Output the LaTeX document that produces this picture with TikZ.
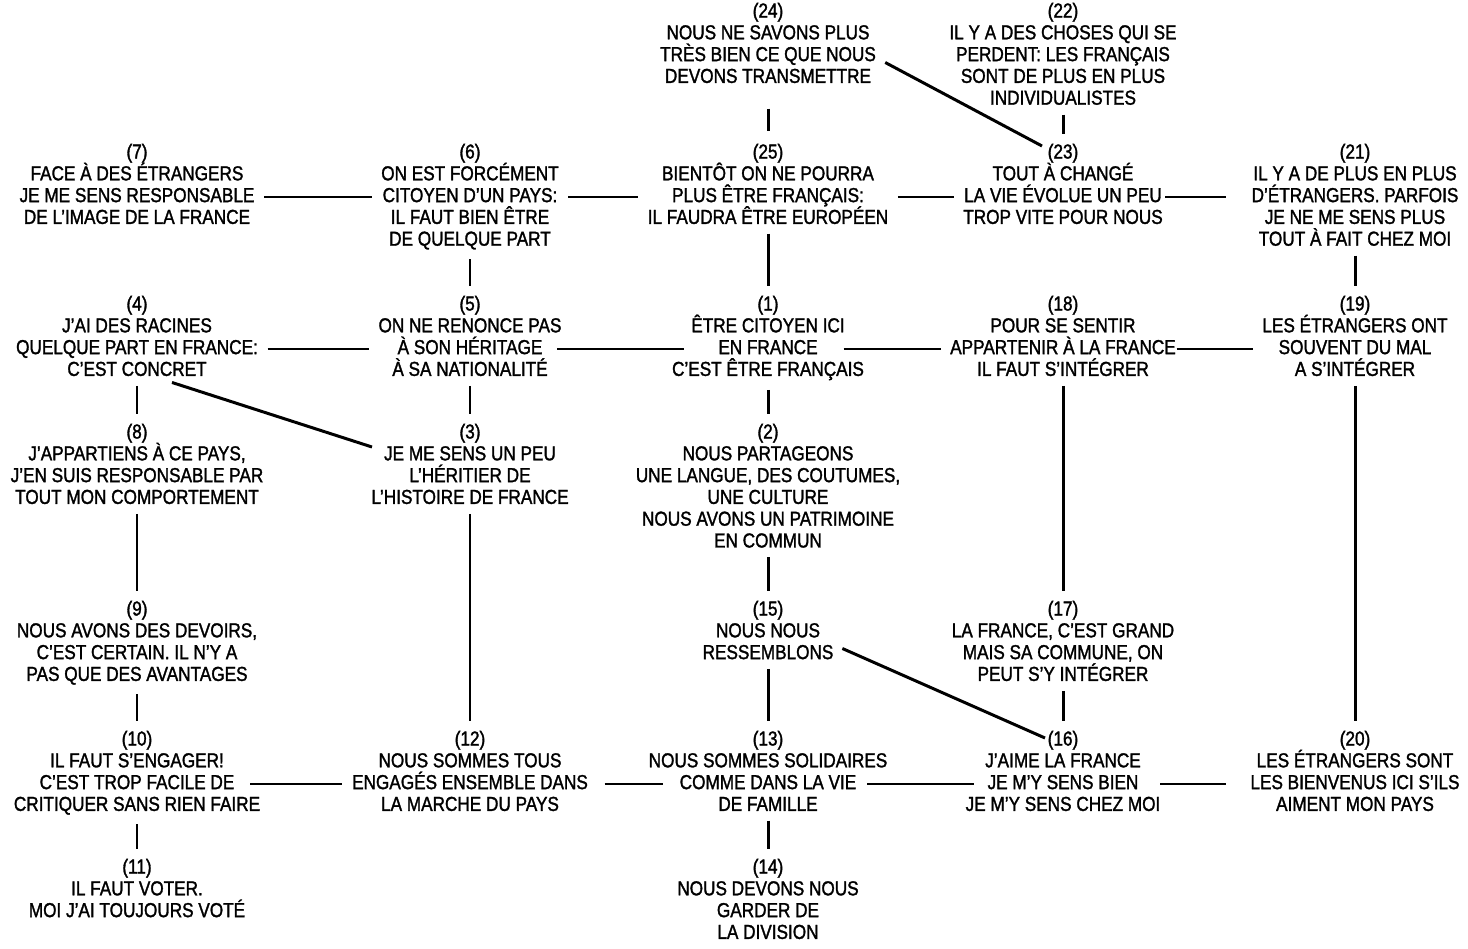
\documentclass[tikz,border=0pt]{standalone}
\usepackage{fontspec}
\setmainfont{Liberation Sans}[FakeStretch=0.85,FakeBold=1.5]
\usetikzlibrary{calc}
\newcommand\stmtfont{\fontsize{11.5}{12.4}\selectfont\lineskiplimit=-20pt}

\begin{document}
\begin{tikzpicture}[x=0.02cm, y=-0.02cm,
    stmt/.style={anchor=north, align=center, inner sep=2.3pt, font=\stmtfont},
    link/.style={line width=1.7pt, shorten <=3pt, shorten >=3pt},
    cross/.style={line width=1.7pt}
]
\useasboundingbox (0,0) rectangle (1468,949);
\coordinate (r2) at (0,197);
\coordinate (r3) at (0,349);
\coordinate (r6) at (0,784);

% top row
\node[stmt] (n24) at (768,-1.5) {(24)\\NOUS NE SAVONS PLUS\\TRÈS BIEN CE QUE NOUS\\DEVONS TRANSMETTRE};
\node[stmt] (n22) at (1063,-1.5) {(22)\\IL Y A DES CHOSES QUI SE\\PERDENT: LES FRANÇAIS\\SONT DE PLUS EN PLUS\\INDIVIDUALISTES};

\node[stmt] (n7) at (137,139.5) {(7)\\FACE À DES ÉTRANGERS\\JE ME SENS RESPONSABLE\\DE L'IMAGE DE LA FRANCE};
\node[stmt] (n6) at (470,139.5) {(6)\\ON EST FORCÉMENT\\CITOYEN D'UN PAYS:\\IL FAUT BIEN ÊTRE\\DE QUELQUE PART};
\node[stmt] (n25) at (768,139.5) {(25)\\BIENTÔT ON NE POURRA\\PLUS ÊTRE FRANÇAIS:\\IL FAUDRA ÊTRE EUROPÉEN};
\node[stmt] (n23) at (1063,139.5) {(23)\\TOUT À CHANGÉ\\LA VIE ÉVOLUE UN PEU\\TROP VITE POUR NOUS};
\node[stmt] (n21) at (1355,139.5) {(21)\\IL Y A DE PLUS EN PLUS\\D'ÉTRANGERS. PARFOIS\\JE NE ME SENS PLUS\\TOUT À FAIT CHEZ MOI};

\node[stmt] (n4) at (137,291.5) {(4)\\J'AI DES RACINES\\QUELQUE PART EN FRANCE:\\C'EST CONCRET};
\node[stmt] (n5) at (470,291.5) {(5)\\ON NE RENONCE PAS\\À SON HÉRITAGE\\À SA NATIONALITÉ};
\node[stmt] (n1) at (768,291.5) {(1)\\ÊTRE CITOYEN ICI\\EN FRANCE\\C'EST ÊTRE FRANÇAIS};
\node[stmt] (n18) at (1063,291.5) {(18)\\POUR SE SENTIR\\APPARTENIR À LA FRANCE\\IL FAUT S'INTÉGRER};
\node[stmt] (n19) at (1355,291.5) {(19)\\LES ÉTRANGERS ONT\\SOUVENT DU MAL\\A S'INTÉGRER};

\node[stmt] (n8) at (137,419.5) {(8)\\J'APPARTIENS À CE PAYS,\\J'EN SUIS RESPONSABLE PAR\\TOUT MON COMPORTEMENT};
\node[stmt] (n3) at (470,419.5) {(3)\\JE ME SENS UN PEU\\L'HÉRITIER DE\\L'HISTOIRE DE FRANCE};
\node[stmt] (n2) at (768,419.5) {(2)\\NOUS PARTAGEONS\\UNE LANGUE, DES COUTUMES,\\UNE CULTURE\\NOUS AVONS UN PATRIMOINE\\EN COMMUN};

\node[stmt] (n9) at (137,596.5) {(9)\\NOUS AVONS DES DEVOIRS,\\C'EST CERTAIN. IL N'Y A\\PAS QUE DES AVANTAGES};
\node[stmt] (n15) at (768,596.5) {(15)\\NOUS NOUS\\RESSEMBLONS};
\node[stmt] (n17) at (1063,596.5) {(17)\\LA FRANCE, C'EST GRAND\\MAIS SA COMMUNE, ON\\PEUT S'Y INTÉGRER};

\node[stmt] (n10) at (137,726.5) {(10)\\IL FAUT S'ENGAGER!\\C'EST TROP FACILE DE\\CRITIQUER SANS RIEN FAIRE};
\node[stmt] (n12) at (470,726.5) {(12)\\NOUS SOMMES TOUS\\ENGAGÉS ENSEMBLE DANS\\LA MARCHE DU PAYS};
\node[stmt] (n13) at (768,726.5) {(13)\\NOUS SOMMES SOLIDAIRES\\COMME DANS LA VIE\\DE FAMILLE};
\node[stmt] (n16) at (1063,726.5) {(16)\\J'AIME LA FRANCE\\JE M'Y SENS BIEN\\JE M'Y SENS CHEZ MOI};
\node[stmt] (n20) at (1355,726.5) {(20)\\LES ÉTRANGERS SONT\\LES BIENVENUS ICI S'ILS\\AIMENT MON PAYS};

\node[stmt] (n11) at (137,854.5) {(11)\\IL FAUT VOTER.\\MOI J'AI TOUJOURS VOTÉ};
\node[stmt] (n14) at (768,854.5) {(14)\\NOUS DEVONS NOUS\\GARDER DE\\LA DIVISION};

% horizontal links
\draw[link] (n7.east |- r2) -- (n6.west |- r2);
\draw[link] (n6.east |- r2) -- (n25.west |- r2);
\draw[link] (n25.east |- r2) -- (n23.west |- r2);
\draw[link, shorten <=-1pt, shorten >=12pt] (n23.east |- r2) -- (n21.west |- r2);
\draw[link] (n4.east |- r3) -- (n5.west |- r3);
\draw[link, shorten <=-5pt, shorten >=-9.5pt] (n5.east |- r3) -- (n1.west |- r3);
\draw[link, shorten <=-14pt] (n1.east |- r3) -- (n18.west |- r3);
\draw[link, shorten <=-2pt] (n18.east |- r3) -- (n19.west |- r3);
\draw[link, shorten <=-8pt] (n10.east |- r6) -- (n12.west |- r6);
\draw[link, shorten <=7pt, shorten >=-10.5pt] (n12.east |- r6) -- (n13.west |- r6);
\draw[link, shorten <=-14pt, shorten >=-7pt] (n13.east |- r6) -- (n16.west |- r6);
\draw[link, shorten <=-2.5pt, shorten >=11.5pt] (n16.east |- r6) -- (n20.west |- r6);

% vertical links
\draw[link, shorten <=12pt, shorten >=5pt] (n24.south) -- (n25.north);
\draw[link] (n22.south) -- (n23.north);
\draw[link] (n6.south) -- (n5.north);
\draw[link] (n25.south) -- (n1.north);
\draw[link] (n21.south) -- (n19.north);
\draw[link] (n4.south) -- (n8.north);
\draw[link] (n5.south) -- (n3.north);
\draw[link] (n1.south) -- (n2.north);
\draw[link] (n18.south) -- (n17.north);
\draw[link] (n19.south) -- (n20.north);
\draw[link] (n8.south) -- (n9.north);
\draw[link] (n3.south) -- (n12.north);
\draw[link] (n2.south) -- (n15.north);
\draw[link] (n9.south) -- (n10.north);
\draw[link] (n15.south) -- (n13.north);
\draw[link] (n17.south) -- (n16.north);
\draw[link] (n10.south) -- (n11.north);
\draw[link] (n13.south) -- (n14.north);

% slanted links
\draw[cross] ($(n24.east)+(5,19.5)$) -- ($(n23.north)+(-21,6.5)$);
\draw[cross] ($(n4.south)+(35,2)$) -- ($(n3.north west)+(5,27.5)$);
\draw[cross] ($(n15.east)+(4.6,18.4)$) -- ($(n16.north)+(-18,11.5)$);
\end{tikzpicture}
\end{document}
